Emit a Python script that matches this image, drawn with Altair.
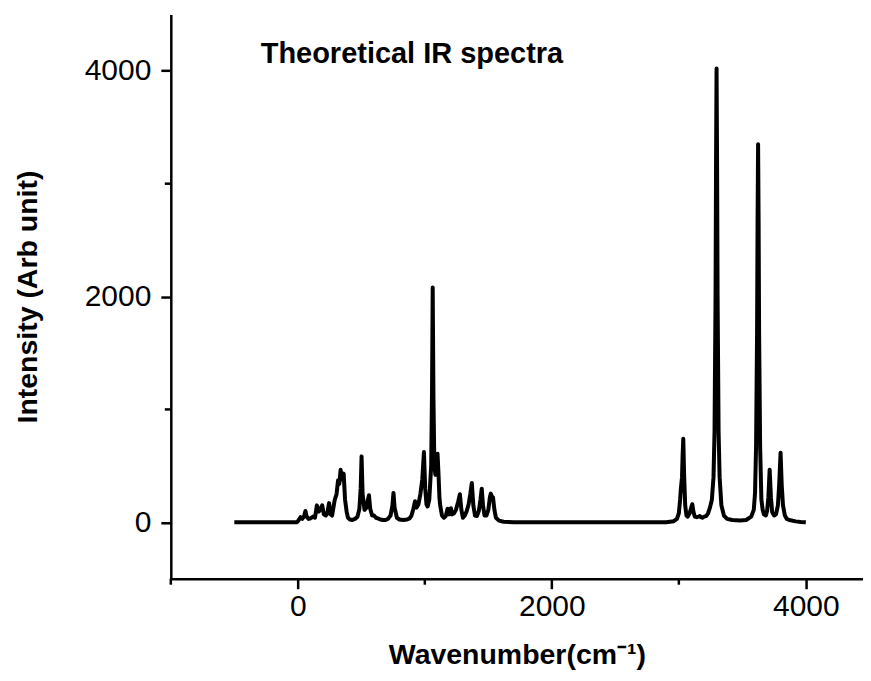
import altair as alt
import pandas as pd

# Spectrum curve (wavenumber in cm-1, intensity in arb. units)
wavenumber = [
    -500, -10, 0, 10, 21, 35, 50, 60, 70, 85, 100, 120, 135, 150, 165, 180, 192, 205, 220, 232,
    246, 258, 270, 290, 305, 317, 327, 337, 349, 361, 372, 385, 395, 410, 430, 450, 470, 485, 495, 502,
    510, 525, 540, 552, 560, 570, 585, 600, 615, 630, 650, 670, 690, 710, 730, 745, 753, 762, 780, 800,
    830, 860, 880, 895, 910, 923, 935, 950, 965, 980, 993, 1003, 1013, 1022, 1035, 1050, 1057, 1062, 1068, 1075,
    1083, 1092, 1100, 1108, 1115, 1121, 1135, 1150, 1165, 1179, 1192, 1205, 1215, 1230, 1245, 1262, 1276, 1288, 1300, 1315,
    1330, 1345, 1358, 1370, 1382, 1395, 1410, 1425, 1438, 1448, 1458, 1470, 1485, 1500, 1512, 1519, 1528, 1537, 1548, 1560,
    1584, 1620, 1700, 2900, 2960, 2985, 3000, 3010, 3016, 3025, 3030, 3035, 3042, 3050, 3060, 3070, 3085, 3100, 3106, 3114,
    3125, 3140, 3155, 3165, 3175, 3185, 3200, 3215, 3230, 3245, 3260, 3273, 3281, 3289, 3293, 3297, 3301, 3305, 3313, 3321,
    3335, 3355, 3380, 3420, 3480, 3530, 3570, 3590, 3600, 3608, 3616, 3620, 3624, 3628, 3632, 3640, 3650, 3660, 3670, 3685,
    3695, 3705, 3715, 3725, 3735, 3750, 3765, 3780, 3790, 3801, 3810, 3820, 3835, 3850, 3870, 3920, 3960, 4000,
]
intensity = [
    0, 0, 8, 25, 45, 30, 55, 100, 50, 30, 35, 50, 40, 150, 95, 120, 150, 70, 60, 80,
    170, 70, 60, 195, 250, 372, 340, 466, 380, 431, 200, 90, 40, 25, 20, 30, 50, 120, 300, 584,
    250, 110, 130, 200, 239, 120, 60, 60, 40, 35, 25, 20, 20, 30, 60, 150, 260, 130, 40, 25,
    20, 25, 35, 60, 120, 186, 130, 160, 250, 380, 622, 300, 160, 140, 200, 500, 1200, 2080, 1100, 500,
    420, 560, 608, 420, 220, 150, 60, 40, 55, 120, 70, 125, 70, 80, 110, 180, 248, 110, 40, 60,
    100, 160, 250, 348, 150, 60, 55, 100, 200, 298, 150, 60, 60, 110, 220, 254, 230, 220, 110, 40,
    15, 5, 0, 0, 10, 30, 80, 200, 298, 400, 600, 740, 400, 150, 60, 50, 80, 140, 160, 100,
    50, 45, 50, 55, 45, 40, 50, 55, 80, 130, 200, 400, 800, 2010, 3200, 4020, 3200, 2010, 800, 400,
    150, 60, 30, 20, 15, 20, 50, 110, 260, 670, 1680, 2680, 3350, 2680, 1680, 670, 200, 110, 70, 60,
    100, 220, 466, 220, 90, 60, 70, 150, 330, 617, 330, 150, 60, 30, 20, 8, 3, 0,
]

x_major = [0, 2000, 4000]
x_minor = [-1000, 1000, 3000]
y_major = [0, 2000, 4000]
y_minor = [1000, 3000]

title_text = "Theoretical IR spectra"
x_title = "Wavenumber(cm\u207b\u00b9)"
y_title = "Intensity (Arb unit)"

W, H = 693, 565
FONT = "Liberation Sans"

df = pd.DataFrame({"w": wavenumber, "I": intensity})
xs = alt.Scale(domain=[-1000, 4450], nice=False, zero=False)
ys = alt.Scale(domain=[-500, 4500], nice=False, zero=False)

axis_common = dict(
    domainColor="black", domainWidth=2.5, tickColor="black", tickWidth=2.5, tickSize=10,
    labelColor="black", labelFont=FONT, labelFontSize=30, grid=False, format="d",
    titleFont=FONT, titleFontWeight="bold", titleColor="black", titleFontSize=28.5,
)
x_axis = alt.Axis(values=x_major, title=x_title, labelPadding=3, titlePadding=19, **axis_common)
y_axis = alt.Axis(values=y_major, title=y_title, labelPadding=10, titlePadding=42, **axis_common)

line = alt.Chart(df).mark_line(color="black", strokeWidth=4, strokeJoin="round").encode(
    x=alt.X("w:Q", scale=xs, axis=x_axis),
    y=alt.Y("I:Q", scale=ys, axis=y_axis),
)

xminor = alt.Chart(pd.DataFrame({"w": x_minor})).mark_rule(color="black", strokeWidth=2.5).encode(
    x=alt.X("w:Q", scale=xs, axis=x_axis),
    y=alt.value(H), y2=alt.value(H + 6),
)
yminor = alt.Chart(pd.DataFrame({"I": y_minor})).mark_rule(color="black", strokeWidth=2.5).encode(
    y=alt.Y("I:Q", scale=ys, axis=y_axis),
    x=alt.value(0), x2=alt.value(-6),
)

title = alt.Chart(pd.DataFrame({"t": [title_text]})).mark_text(
    font=FONT, fontSize=29, fontWeight="bold", color="black", align="left", baseline="middle"
).encode(text="t:N", x=alt.value(90), y=alt.value(40))

chart = alt.layer(line, xminor, yminor, title).properties(
    width=W, height=H,
    autosize=alt.AutoSizeParams(type="none"),
    padding={"left": 163, "top": 6, "right": 0, "bottom": 94},
).configure_view(stroke=None)

chart.save("out.html", embed_options={"renderer": "svg", "actions": False})
